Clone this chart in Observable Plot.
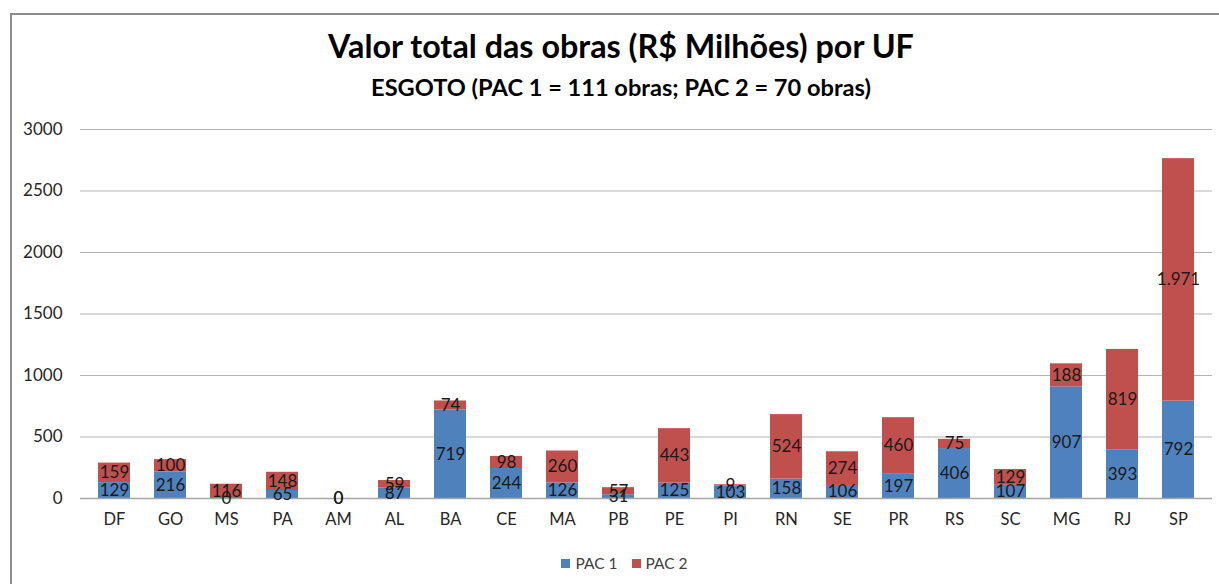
<!DOCTYPE html>
<html>
<head>
<meta charset="utf-8">
<script src="https://cdn.jsdelivr.net/npm/d3@7"></script>
<script src="https://cdn.jsdelivr.net/npm/@observablehq/plot@0.6"></script>
<style>
  html, body { margin: 0; padding: 0; background: #fff; }
  #wrap { position: relative; width: 1219px; height: 584px; overflow: hidden; font-family: Lato, "Open Sans", sans-serif; }
  #frame { position: absolute; left: 10px; top: 13px; width: 1400px; height: 800px; border-left: 2px solid #8c8c8c; border-top: 2px solid #8c8c8c; box-sizing: border-box; }
  #titles { position: relative; height: 110px; }
  #title { position: absolute; left: 0; width: 1242px; top: 26px; text-align: center; font-weight: bold; font-size: 32.3px; color: #000; }
  #subtitle { position: absolute; left: 0; width: 1242px; top: 73px; text-align: center; font-weight: bold; font-size: 23.6px; color: #000; }
  #chart { position: relative; height: 440px; }
  #legend { position: relative; height: 34px; display: flex; justify-content: center; align-items: center; gap: 14px; font-size: 15.5px; color: #404040; padding-left: 30px; margin-top: -4px; }
  .item { display: flex; align-items: center; gap: 5px; }
  .sw { width: 9px; height: 9px; display: inline-block; }
</style>
</head>
<body>
<div id="wrap">
  <div id="frame"></div>
  <div id="titles">
    <div id="title">Valor total das obras (R$ Milhões) por UF</div>
    <div id="subtitle">ESGOTO (PAC 1 = 111 obras; PAC 2 = 70 obras)</div>
  </div>
  <div id="chart"></div>
  <div id="legend"></div>
</div>
<script>
const ufs = ["DF","GO","MS","PA","AM","AL","BA","CE","MA","PB","PE","PI","RN","SE","PR","RS","SC","MG","RJ","SP"];
const pac1 = [129,216,0,65,0,87,719,244,126,31,125,103,158,106,197,406,107,907,393,792];
const pac2 = [159,100,116,148,0,59,74,98,260,57,443,9,524,274,460,75,129,188,819,1971];
const series = ["PAC 1","PAC 2"];
const colors = ["#4F81BD","#C0504D"];
const yTicks = [0,500,1000,1500,2000,2500,3000];

const rows = ufs.flatMap((uf, i) => [
  {uf, serie: series[0], value: pac1[i]},
  {uf, serie: series[1], value: pac2[i]}
]);

const ptBR = d3.formatLocale({decimal: ",", thousands: ".", grouping: [3], currency: ["R$", ""]});
const fmt = ptBR.format(",d");

const chart = Plot.plot({
  width: 1219,
  height: 440,
  marginLeft: 80,
  marginRight: 7,
  marginTop: 19,
  marginBottom: 52,
  style: {fontFamily: "Lato, 'Open Sans', sans-serif", background: "transparent"},
  x: {domain: ufs, paddingInner: 0.43, paddingOuter: 0.215},
  y: {domain: [0, 3000]},
  color: {domain: series, range: colors},
  marks: [
    Plot.ruleY(yTicks.filter(d => d > 0), {stroke: "#b4b4b4", strokeWidth: 1.2}),
    Plot.barY(rows, Plot.stackY({x: "uf", y: "value", fill: "serie"})),
    Plot.ruleY([0], {stroke: "#a6a6a6", strokeWidth: 1.5}),
    Plot.text(rows, Plot.stackY({x: "uf", y: "value", text: d => fmt(d.value), fill: "#1a1a1a", fontSize: 17})),
    Plot.axisY({ticks: yTicks, tickSize: 0, tickPadding: 18, label: null, fontSize: 17, tickFormat: d => String(d), color: "#262626"}),
    Plot.axisX({tickSize: 0, tickPadding: 15, label: null, fontSize: 16.5, color: "#262626"})
  ]
});
document.getElementById("chart").appendChild(chart);

const legend = document.getElementById("legend");
series.forEach((s, i) => {
  const it = document.createElement("span");
  it.className = "item";
  const sw = document.createElement("span");
  sw.className = "sw";
  sw.style.background = colors[i];
  const t = document.createElement("span");
  t.textContent = s;
  it.appendChild(sw); it.appendChild(t);
  legend.appendChild(it);
});
</script>
</body>
</html>
